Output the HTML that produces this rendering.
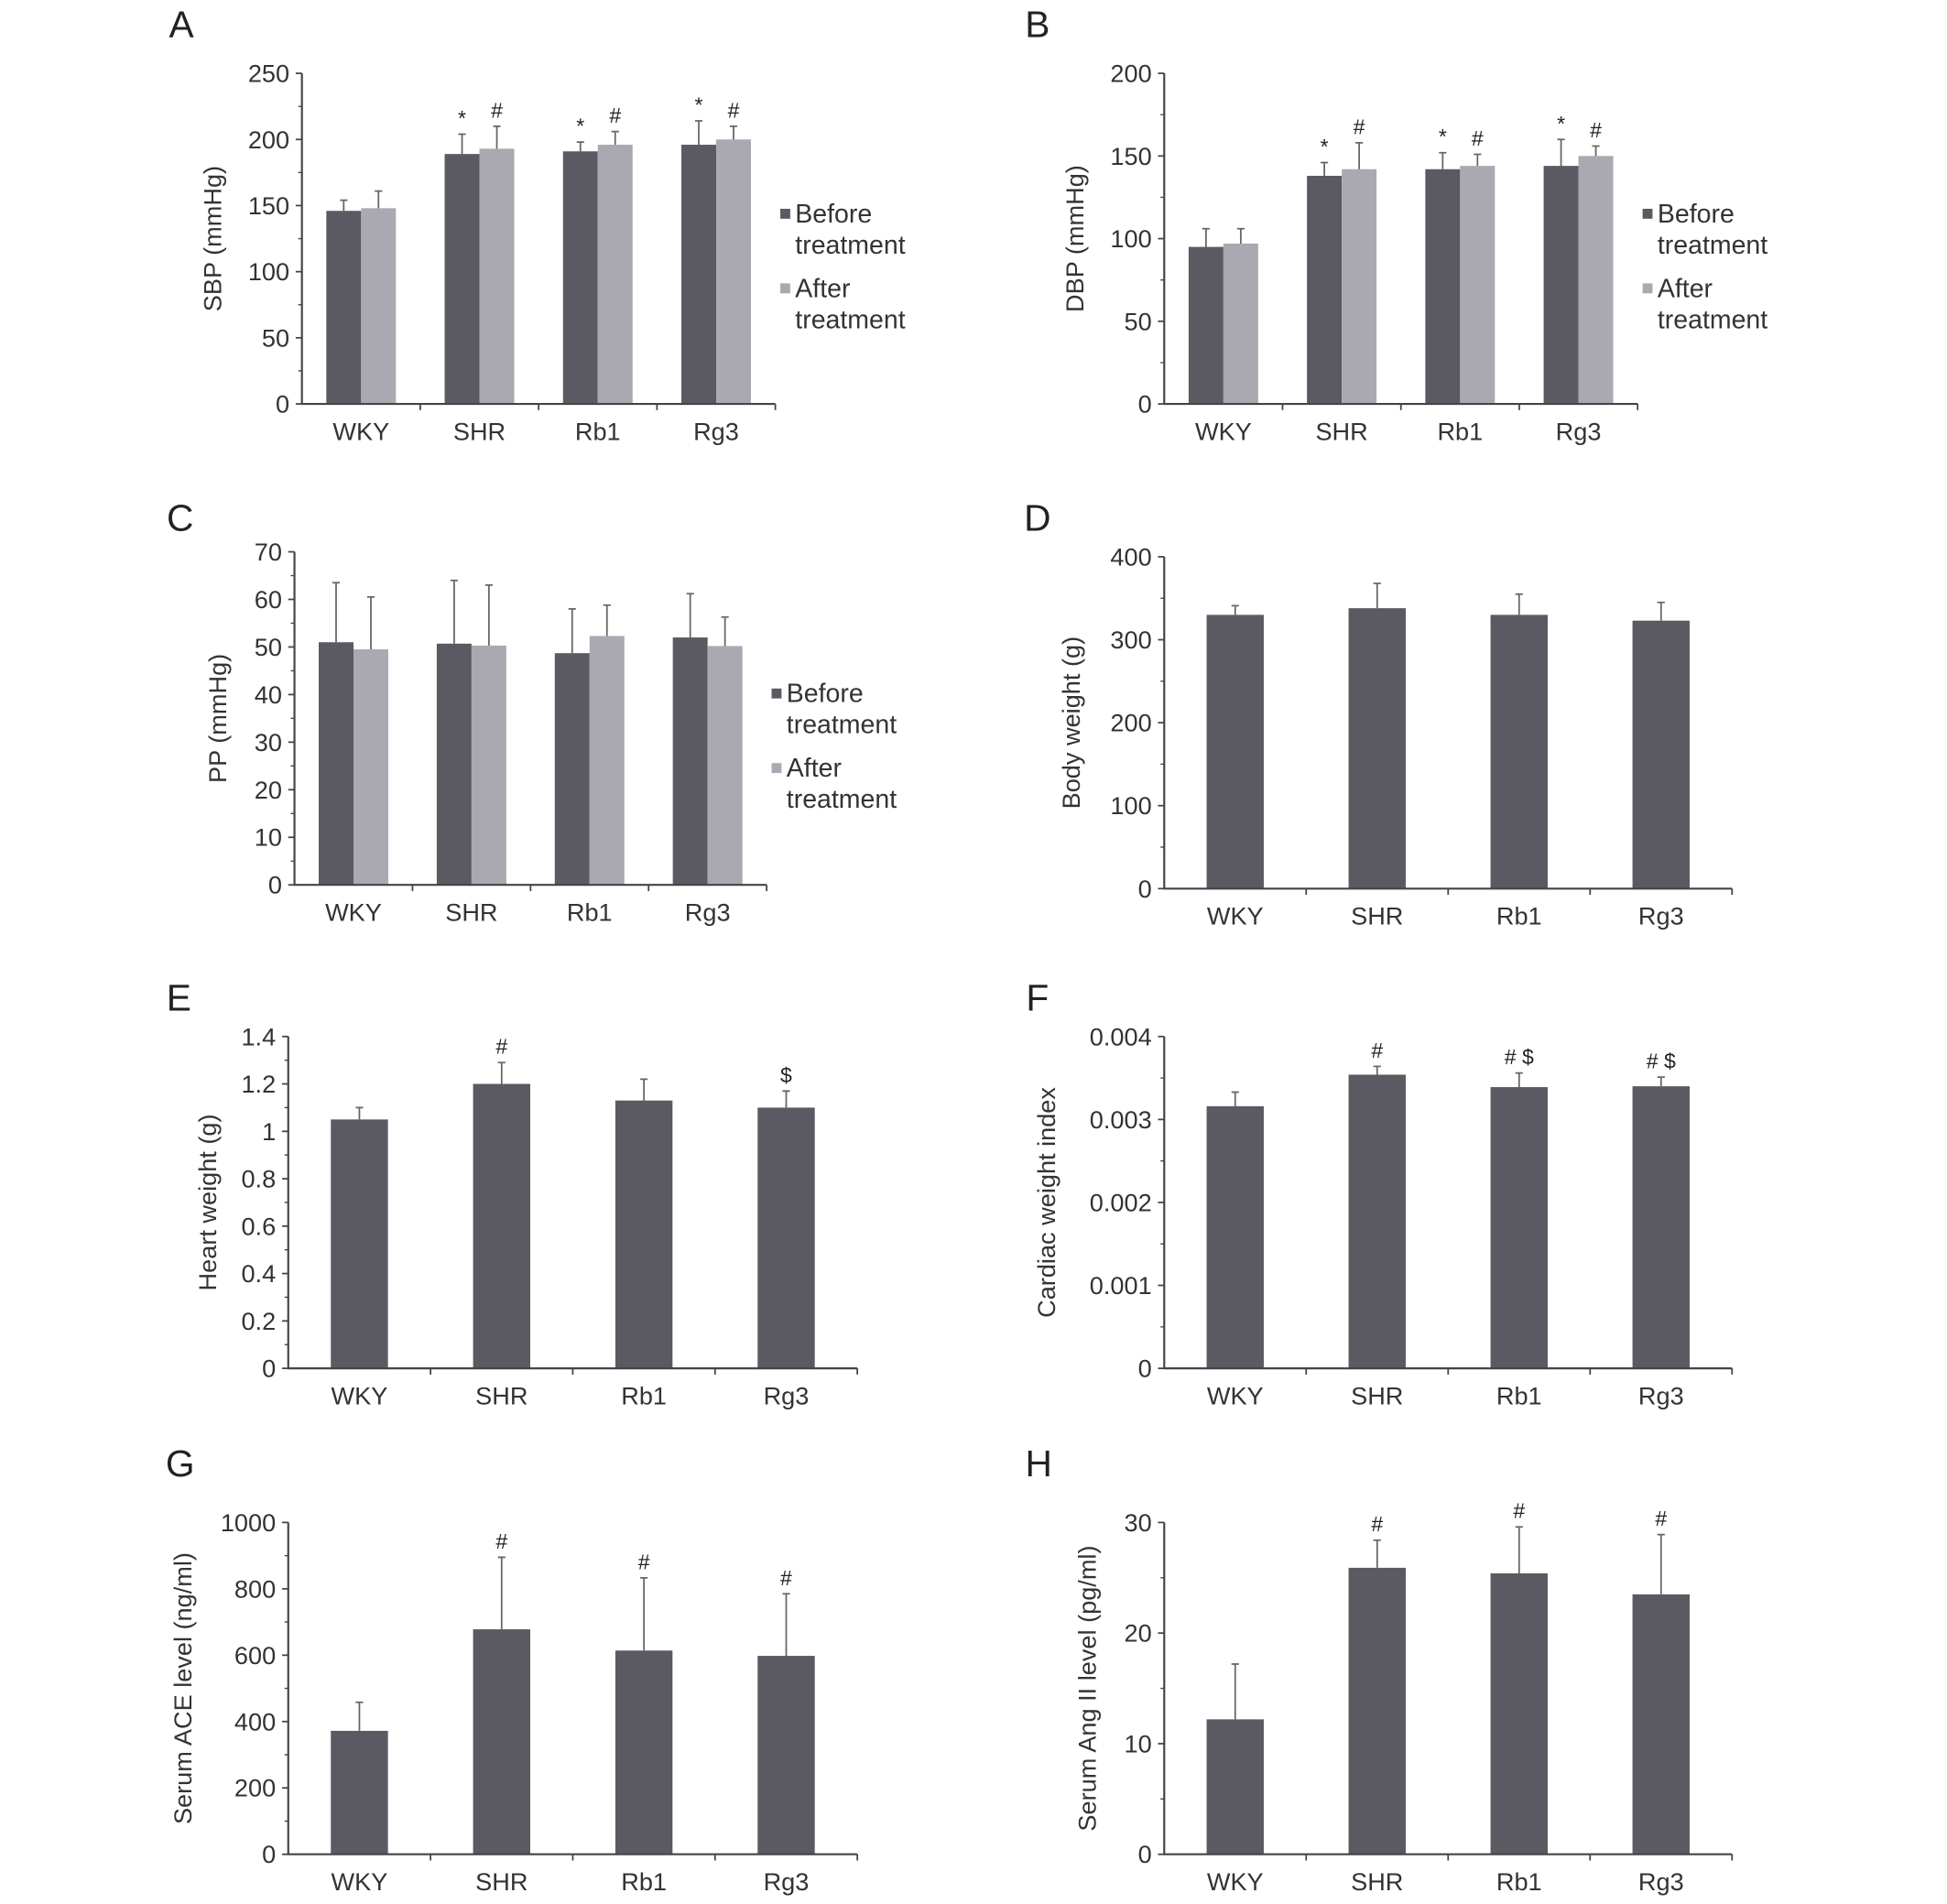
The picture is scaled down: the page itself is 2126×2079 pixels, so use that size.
<!DOCTYPE html>
<html><head><meta charset="utf-8"><style>
html,body{margin:0;padding:0;background:#fff;}
svg{display:block;font-family:"Liberation Sans",Arial,sans-serif;}
</style></head><body>
<svg id="fig" width="2126" height="2079" viewBox="0 0 1567 1532" preserveAspectRatio="none" xmlns="http://www.w3.org/2000/svg"></svg>
<script>
const categories = ["WKY","SHR","Rb1","Rg3"];
// Panel A
const aBefore = [146,189,191,196], aAfter = [148,193,196,200];
const aBeforeErr = [154,204,198,214], aAfterErr = [161,210,206,210];
const aTicks = [0,50,100,150,200,250];
// Panel B
const bBefore = [95,138,142,144], bAfter = [97,142,144,150];
const bBeforeErr = [106,146,152,160], bAfterErr = [106,158,151,156];
const bTicks = [0,50,100,150,200];
// Panel C
const cBefore = [51,50.7,48.7,52], cAfter = [49.5,50.3,52.3,50.2];
const cBeforeErr = [63.5,64,58,61.2], cAfterErr = [60.5,63,58.8,56.3];
const cTicks = [0,10,20,30,40,50,60,70];
// Panel D
const dValues = [330,338,330,323], dErr = [341,368,355,345];
const dTicks = [0,100,200,300,400];
// Panel E
const eValues = [1.05,1.2,1.13,1.1], eErr = [1.1,1.29,1.22,1.17];
const eTicks = [0,0.2,0.4,0.6,0.8,1,1.2,1.4];
const eTickLabels = ["0","0.2","0.4","0.6","0.8","1","1.2","1.4"];
const eMarks = ["","#","","$"];
// Panel F
const fValues = [0.00316,0.00354,0.00339,0.0034], fErr = [0.00333,0.00364,0.00356,0.00351];
const fTicks = [0,0.001,0.002,0.003,0.004];
const fTickLabels = ["0","0.001","0.002","0.003","0.004"];
const fMarks = ["","#","# $","# $"];
// Panel G
const gValues = [372,678,614,598], gErr = [458,895,833,785];
const gTicks = [0,200,400,600,800,1000];
const gMarks = ["","#","#","#"];
// Panel H
const hValues = [12.2,25.9,25.4,23.5], hErr = [17.2,28.4,29.6,28.9];
const hTicks = [0,10,20,30];
const hMarks = ["","#","#","#"];

const NS="http://www.w3.org/2000/svg";
const svg=document.getElementById('fig');
const DARK="#5b5a62", LIGHT="#aaa9b1", AX="#444";
function mk(tag,attrs,parent){const e=document.createElementNS(NS,tag);for(const k in attrs)e.setAttribute(k,attrs[k]);(parent||svg).appendChild(e);return e;}
function txt(s,x,y,size,anchor,parent,extra){const t=mk('text',Object.assign({x:x,y:y,'font-size':size,'text-anchor':anchor||'middle',fill:'#222'},extra||{}),parent);t.textContent=s;return t;}

function panel(cfg){
  const g=mk('g',{});
  
  
  const max=cfg.ticks[cfg.ticks.length-1];
  const y=v=>cfg.y0-(v/max)*(cfg.y0-cfg.yTop);
  const xc=i=>cfg.x0+(cfg.x1-cfg.x0)*(i+0.5)/categories.length;
  const L=txt(cfg.id,cfg.lx,cfg.ly,30,'middle',g);
  
  
  cfg.series.forEach((s,si)=>{
    s.vals.forEach((v,i)=>{
      let bx;
      if(cfg.series.length===1) bx=xc(i)-cfg.bw/2; else bx=xc(i)-cfg.bw+si*cfg.bw;
      const r=mk('rect',{x:bx,y:y(v),width:cfg.bw,height:cfg.y0-y(v),fill:s.color},g);
      
      
      const cx=bx+cfg.bw/2, ey=y(s.err[i]);
      const e=mk('path',{d:`M${cx},${y(v)}V${ey}M${cx-3},${ey}H${cx+3}`,stroke:'#666','stroke-width':1.3,fill:'none'},g);
      
      
      if(s.marks&&s.marks[i]){
        const m=txt(s.marks[i],cx,ey-7,17,'middle',g);
        
        
      }
    });
  });
  const ax=mk('path',{d:`M${cfg.x0},${cfg.yTop}V${cfg.y0}H${cfg.x1}`,stroke:AX,'stroke-width':1.6,fill:'none'},g);
  
  
  cfg.ticks.forEach((t,i)=>{
    mk('line',{x1:cfg.x0-5,x2:cfg.x0,y1:y(t),y2:y(t),stroke:AX,'stroke-width':1.3},g);
    if(i>0){const mid=(t+cfg.ticks[i-1])/2;mk('line',{x1:cfg.x0-3,x2:cfg.x0,y1:y(mid),y2:y(mid),stroke:AX,'stroke-width':1},g);}
    const tl=txt(cfg.tickLabels?cfg.tickLabels[i]:String(t),cfg.x0-10,y(t)+7,20,'end',g,{fill:'#333'});
    
    
  });
  for(let i=1;i<=categories.length;i++){
    const xx=cfg.x0+(cfg.x1-cfg.x0)*i/categories.length;
    mk('line',{x1:xx,x2:xx,y1:cfg.y0,y2:cfg.y0+5,stroke:AX,'stroke-width':1.3},g);
  }
  categories.forEach((c,i)=>{
    const cl=txt(c,xc(i),cfg.y0+29,20,'middle',g,{fill:'#333'});
    
    
  });
  const ty=(cfg.y0+cfg.yTop)/2;
  const tt=txt(cfg.title,cfg.tx,ty,20,'middle',g,{transform:`rotate(-90 ${cfg.tx} ${ty})`,fill:'#333'});
  
  
  if(cfg.legend){
    const lg=mk('g',{},g);
    
    
    const [lx,ly]=cfg.legend;
    mk('rect',{x:lx,y:ly-11,width:8,height:8,fill:DARK},lg);
    txt('Before',lx+12,ly,21,'start',lg,{fill:'#333'});
    txt('treatment',lx+12,ly+25,21,'start',lg,{fill:'#333'});
    mk('rect',{x:lx,y:ly+49,width:8,height:8,fill:LIGHT},lg);
    txt('After',lx+12,ly+60,21,'start',lg,{fill:'#333'});
    txt('treatment',lx+12,ly+85,21,'start',lg,{fill:'#333'});
  }
}
const star=["","*","*","*"], hash=["","#","#","#"];
panel({id:'A',lx:146,ly:30,x0:243,x1:624,yTop:59,y0:325,bw:28,ticks:aTicks,title:'SBP (mmHg)',tx:178,legend:[628,179],
  series:[{key:'before',vals:aBefore,err:aBeforeErr,color:DARK,marks:star},{key:'after',vals:aAfter,err:aAfterErr,color:LIGHT,marks:hash}]});
panel({id:'B',lx:835,ly:30,x0:937,x1:1318,yTop:59,y0:325,bw:28,ticks:bTicks,title:'DBP (mmHg)',tx:872,legend:[1322,179],
  series:[{key:'before',vals:bBefore,err:bBeforeErr,color:DARK,marks:star},{key:'after',vals:bAfter,err:bAfterErr,color:LIGHT,marks:hash}]});
panel({id:'C',lx:145,ly:427,x0:237,x1:617,yTop:444,y0:712,bw:28,ticks:cTicks,title:'PP (mmHg)',tx:182,legend:[621,565],
  series:[{key:'before',vals:cBefore,err:cBeforeErr,color:DARK},{key:'after',vals:cAfter,err:cAfterErr,color:LIGHT}]});
panel({id:'D',lx:835,ly:427,x0:937,x1:1394,yTop:448,y0:715,bw:46,ticks:dTicks,title:'Body weight (g)',tx:869,
  series:[{key:'value',vals:dValues,err:dErr,color:DARK}]});
panel({id:'E',lx:144,ly:813,x0:232,x1:690,yTop:834,y0:1101,bw:46,ticks:eTicks,tickLabels:eTickLabels,title:'Heart weight (g)',tx:174,
  series:[{key:'value',vals:eValues,err:eErr,color:DARK,marks:eMarks}]});
panel({id:'F',lx:835,ly:813,x0:937,x1:1394,yTop:834,y0:1101,bw:46,ticks:fTicks,tickLabels:fTickLabels,title:'Cardiac weight index',tx:849,
  series:[{key:'value',vals:fValues,err:fErr,color:DARK,marks:fMarks}]});
panel({id:'G',lx:145,ly:1188,x0:232,x1:690,yTop:1225,y0:1492,bw:46,ticks:gTicks,title:'Serum ACE level (ng/ml)',tx:154,
  series:[{key:'value',vals:gValues,err:gErr,color:DARK,marks:gMarks}]});
panel({id:'H',lx:836,ly:1188,x0:937,x1:1394,yTop:1225,y0:1492,bw:46,ticks:hTicks,title:'Serum Ang II level (pg/ml)',tx:882,
  series:[{key:'value',vals:hValues,err:hErr,color:DARK,marks:hMarks}]});
</script>
</body></html>
